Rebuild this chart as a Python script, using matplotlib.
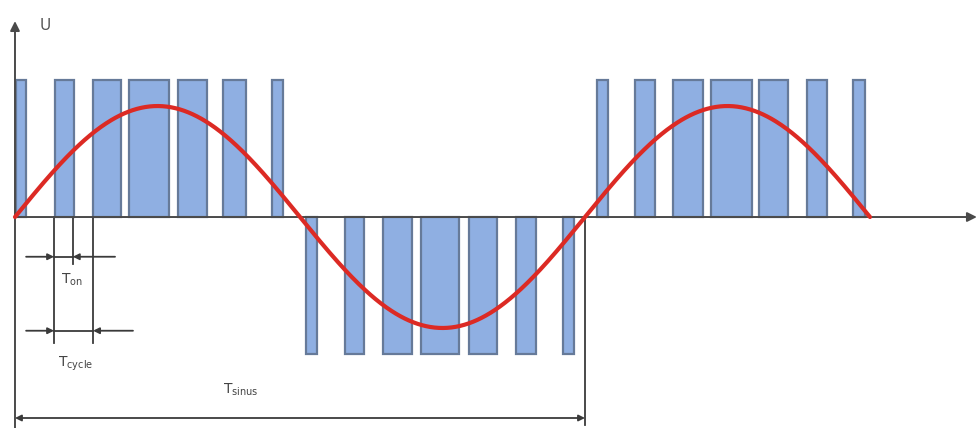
import numpy as np
import matplotlib
matplotlib.use("Agg")
import matplotlib.pyplot as plt

# PWM pulses (start, end) in ms, height +1 / -1
pos1_start = [0.05, 1.40, 2.74, 4.00, 5.72, 7.30, 9.02]
pos1_end = [0.39, 2.07, 3.72, 5.40, 6.74, 8.10, 9.40]
neg_start = [10.21, 11.58, 12.91, 14.25, 15.93, 17.58, 19.23]
neg_end = [10.60, 12.25, 13.93, 15.58, 16.91, 18.28, 19.61]
pos2_start = [20.42, 21.75, 23.09, 24.42, 26.11, 27.79, 29.40]
pos2_end = [20.81, 22.46, 24.14, 25.86, 27.12, 28.49, 29.82]

sine_period = 20.0
sine_amp = 0.81
sine_end = 30.0

# dimension marks
t_on = [1.37, 2.03]
t_cycle = [1.37, 2.74]
t_sinus = [0.0, 20.0]

fill_c = '#8fafe2'
edge_c = '#667a99'
axis_c = '#4a4a4a'

fig = plt.figure(figsize=(9.8, 4.28), dpi=100)
ax = fig.add_axes([0, 0, 1, 1])
ax.set_xlim(-0.526, 33.86)
ax.set_ylim(-1.54, 1.584)
ax.axis('off')

# pulses
def draw_pulses(starts, ends, h):
    for s, e in zip(starts, ends):
        ax.bar(s, h, width=e - s, align='edge', color=fill_c,
               edgecolor=edge_c, linewidth=1.6, zorder=2)

draw_pulses(pos1_start, pos1_end, 1)
draw_pulses(neg_start, neg_end, -1)
draw_pulses(pos2_start, pos2_end, 1)

# sine reference
t = np.linspace(0, sine_end, 800)
ax.plot(t, sine_amp * np.sin(2 * np.pi * t / sine_period),
        color='#dc2a24', lw=3, zorder=4, solid_capstyle='round')

# axes with arrows
ax.annotate('', xy=(33.75, 0), xytext=(0, 0),
            arrowprops=dict(arrowstyle='-|>', color=axis_c, lw=1.4,
                            mutation_scale=14, shrinkA=0, shrinkB=0), zorder=3)
ax.annotate('', xy=(0, 1.43), xytext=(0, -1.54),
            arrowprops=dict(arrowstyle='-|>', color=axis_c, lw=1.4,
                            mutation_scale=14, shrinkA=0, shrinkB=0), zorder=3)
ax.text(0.85, 1.395, 'U', fontsize=11, color='#555555', ha='left', va='center')

dim_kw = dict(color='#3a3a3a', lw=1.3)
arr_kw = dict(arrowstyle='-|>', color='#3a3a3a', lw=1.3,
              mutation_scale=9, shrinkA=0, shrinkB=0)

# extension lines
ax.plot([t_cycle[0], t_cycle[0]], [0, -0.92], **dim_kw)
ax.plot([t_on[1], t_on[1]], [0, -0.34], **dim_kw)
ax.plot([t_cycle[1], t_cycle[1]], [0, -0.92], **dim_kw)

# T_on dimension
y_on = -0.29
ax.annotate('', xy=(t_on[0], y_on), xytext=(0.39, y_on), arrowprops=arr_kw)
ax.annotate('', xy=(t_on[1], y_on), xytext=(3.51, y_on), arrowprops=arr_kw)
ax.plot(t_on, [y_on, y_on], **dim_kw)
ax.text(1.6, -0.46, r'T$_{\mathrm{on}}$', fontsize=10, color='#444444', ha='left', va='center')

# T_cycle dimension
y_cy = -0.83
ax.annotate('', xy=(t_cycle[0], y_cy), xytext=(0.39, y_cy), arrowprops=arr_kw)
ax.annotate('', xy=(t_cycle[1], y_cy), xytext=(4.14, y_cy), arrowprops=arr_kw)
ax.plot(t_cycle, [y_cy, y_cy], **dim_kw)
ax.text(1.5, -1.07, r'T$_{\mathrm{cycle}}$', fontsize=10, color='#444444', ha='left', va='center')

# T_sinus dimension
y_si = -1.467
ax.plot([t_sinus[1], t_sinus[1]], [0, -1.52], **dim_kw)
ax.annotate('', xy=(t_sinus[1], y_si), xytext=(t_sinus[0], y_si),
            arrowprops=dict(arrowstyle='<|-|>', color='#3a3a3a', lw=1.3,
                            mutation_scale=9, shrinkA=0, shrinkB=0))
ax.text(7.3, -1.26, r'T$_{\mathrm{sinus}}$', fontsize=10, color='#444444', ha='left', va='center')

fig.savefig('out.png', dpi=100)
